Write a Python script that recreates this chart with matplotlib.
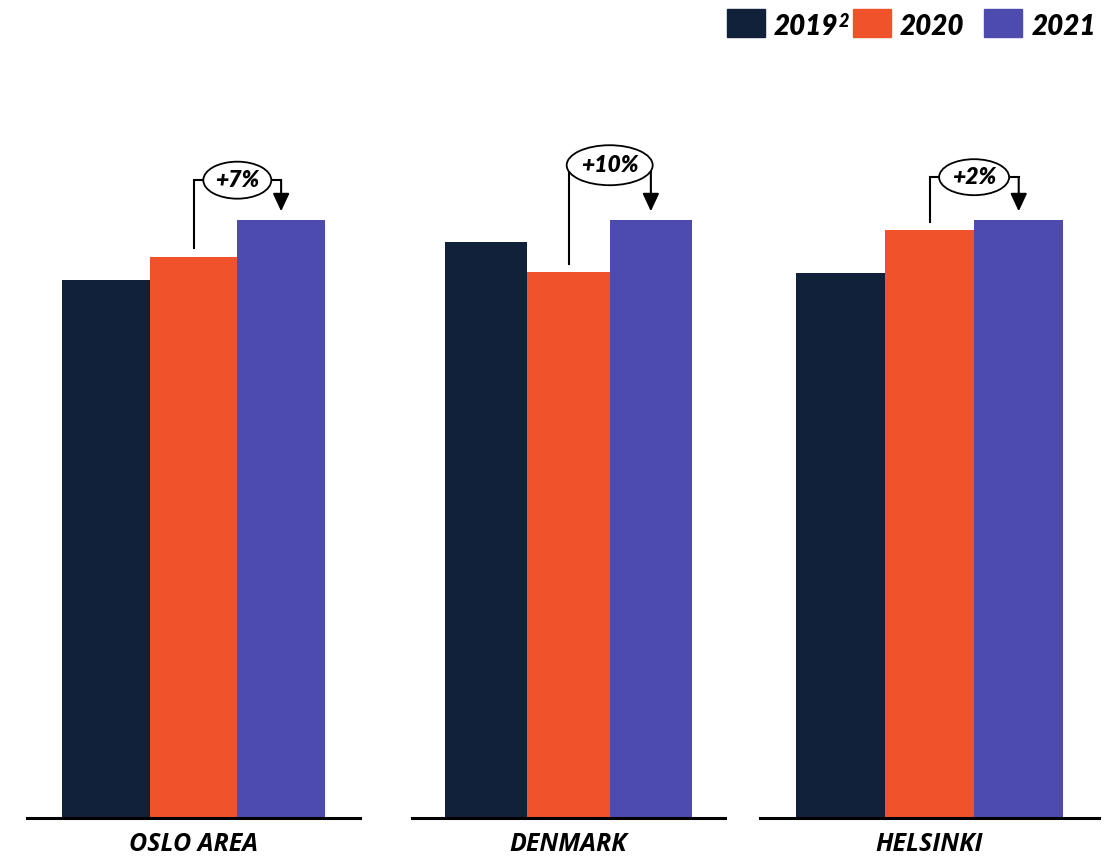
import matplotlib.pyplot as plt
from matplotlib.patches import Ellipse, Rectangle

# Index values, 2021 = 100 in each market
regions = ['OSLO AREA', 'DENMARK', 'HELSINKI']
years = ['2019', '2020', '2021']
v2019 = [90.0, 96.2, 91.1]
v2020 = [93.8, 91.2, 98.2]
v2021 = [100.0, 100.0, 100.0]
changes = ['+7%', '+10%', '+2%']

colors = ['#12213A', '#F0522C', '#4E4BAF']
label_font = ['Open Sans', 'DejaVu Sans']
num_font = ['Lato', 'DejaVu Sans']

W, H = 1115, 858
fig = plt.figure(figsize=(W / 100, H / 100), dpi=100)

# horizontal extent (pixels) of each market's panel
spans = [(27, 360), (412, 725), (760, 1099)]
top_px, base_px = 100, 818
ymax = 120
bracket_y = [106.6, 109.1, 107.1]
oval_px = [(68, 37), (86, 40), (70, 36)]
gap = 1.4

axes = []
for i, name in enumerate(regions):
    x0, x1 = spans[i]
    ax = fig.add_axes([x0 / W, 1 - base_px / H, (x1 - x0) / W, (base_px - top_px) / H])
    axes.append(ax)
    vals = [v2019[i], v2020[i], v2021[i]]
    ax.bar(range(3), vals, width=1.0, color=colors, zorder=2)
    ax.set_xlim(-0.9, 2.9)
    ax.set_ylim(0, ymax)
    for s in ['top', 'left', 'right']:
        ax.spines[s].set_visible(False)
    ax.spines['bottom'].set_linewidth(2.2)
    ax.spines['bottom'].set_zorder(3)
    ax.set_xticks([])
    ax.set_yticks([])
    ax.patch.set_alpha(0)

    # market name under the baseline
    ax.annotate(name, xy=(1, 0), xycoords=('data', 'axes fraction'),
                xytext=(0, -39), textcoords='offset pixels',
                ha='center', va='bottom', fontsize=18, fontweight='bold',
                fontstyle='italic', family=label_font)

    # bracket from 2020 to 2021 with the change label
    dx = 3.8 / (x1 - x0)
    dy = ymax / (base_px - top_px)
    yb = bracket_y[i]
    ax.plot([1, 1, 2], [v2020[i] + gap, yb, yb], color='black', lw=1.5,
            clip_on=False, zorder=4, solid_joinstyle='miter')
    ax.annotate('', xy=(2, v2021[i] + gap), xytext=(2, yb),
                arrowprops=dict(arrowstyle='-|>,head_length=0.9,head_width=0.42',
                                mutation_scale=12, lw=1.5, color='black',
                                shrinkA=0, shrinkB=0),
                annotation_clip=False, zorder=4)
    ow, oh = oval_px[i]
    ax.add_patch(Ellipse((1.5, yb), ow * dx, oh * dy, facecolor='white',
                         edgecolor='black', lw=1.3, zorder=5, clip_on=False))
    ax.text(1.5, yb, changes[i], ha='center', va='center', fontsize=16.5,
            fontweight='heavy', fontstyle='italic', family=num_font, zorder=6)

# legend along the top right
legend_px = [(727, 774), (853, 900), (984, 1032)]
for (px, tx), c, yr in zip(legend_px, colors, years):
    fig.add_artist(Rectangle((px / W, 1 - 37 / H), 38 / W, 28 / H,
                             transform=fig.transFigure, color=c))
    t = fig.text(tx / W, 1 - 35 / H, yr, ha='left', va='baseline', fontsize=20,
                 fontweight='heavy', fontstyle='italic', family=num_font)
    if yr == '2019':
        axes[0].annotate('2', xy=(1, 1), xycoords=t, xytext=(0.5, 1),
                         textcoords='offset points', ha='left', va='top',
                         fontsize=13, fontweight='heavy', fontstyle='italic',
                         family=num_font, annotation_clip=False)

fig.savefig('out.png', dpi=100)
